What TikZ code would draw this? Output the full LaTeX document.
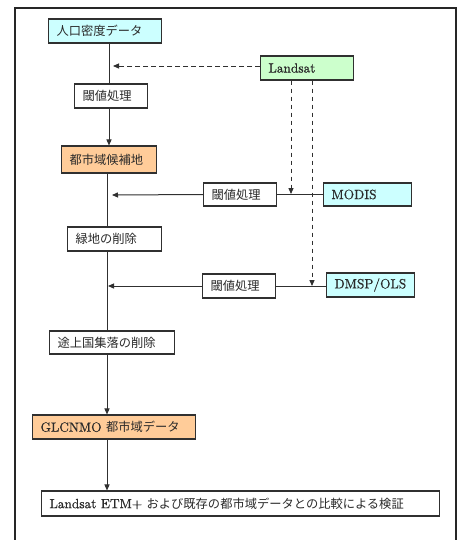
\documentclass[tikz,border=0pt]{standalone}
\usepackage{fontspec}
\setmainfont{Latin Modern Roman}[FakeBold=0.7]
\newfontfamily\jp{Noto Sans CJK JP}
\usetikzlibrary{arrows.meta}
\definecolor{bcyan}{HTML}{CCFFFF}
\definecolor{bgreen}{HTML}{CCFFCC}
\definecolor{borange}{HTML}{FFCC99}
\definecolor{edge}{HTML}{303030}
\definecolor{txt}{HTML}{2A2A2A}
\tikzset{
  box/.style={draw=edge, line width=0.8pt, anchor=west, inner xsep=6pt, inner ysep=0pt,
    minimum height=18pt, align=left, text=txt, font=\fontsize{10}{12}\selectfont},
  conn/.style={draw=edge, line width=0.75pt},
  arr/.style={conn, -{Triangle[length=4.5pt,width=3.8pt]}},
  darr/.style={arr, dash pattern=on 3.5pt off 2.5pt},
}
\newcommand\J[1]{{\jp\fontsize{9.2}{11}\selectfont #1}}
\begin{document}
\begin{tikzpicture}[x=0.75pt,y=-0.75pt]
\useasboundingbox (0,0) rectangle (458,540);
\clip (0,0) rectangle (458,540);
\fill[white] (0,0) rectangle (458,540);
\draw[line width=1.1pt, draw=black!85] (15,8) rectangle (456,580);

\node[box, fill=bcyan, text width=72.75pt] (pop) at (48,31) {\J{人口密度データ}};
\node[box, fill=bgreen, text width=57.75pt] (landsat) at (260,68) {Landsat};
\node[box, fill=white, text width=42.75pt] (th1) at (74,96) {\J{閾値処理}};
\node[box, fill=borange, text width=59.25pt, minimum height=20.25pt] (cand) at (61,159.5) {\J{都市域候補地}};
\node[box, fill=white, text width=42.75pt, minimum height=17.25pt] (th2) at (203,194.5) {\J{閾値処理}};
\node[box, fill=bcyan, text width=54pt, minimum height=17.25pt] (modis) at (323,194.5) {MODIS};
\node[box, fill=white, text width=58.5pt] (green) at (67,239) {\J{緑地の削除}};
\node[box, fill=white, text width=42.75pt] (th3) at (202,286) {\J{閾値処理}};
\node[box, fill=bcyan, text width=54pt] (dmsp) at (326,285) {DMSP/OLS};
\node[box, fill=white, text width=81.75pt, minimum height=17.25pt] (dev) at (49,342.5) {\J{途上国集落の削除}};
\node[box, fill=borange, text width=110.25pt] (glc) at (32,427) {GLCNMO\ \J{都市域データ}};
\node[box, fill=white, text width=286.5pt, minimum height=18.75pt] (final) at (41,503.5) {Landsat ETM+ \J{および既存の都市域データとの比較による検証}};

\coordinate (m1) at (109,0);
\coordinate (m2) at (107,0);
\coordinate (d1) at (291,0);
\coordinate (d2) at (312,0);
\coordinate (tipL) at (113,66);
\coordinate (tipM) at (112,195);
\coordinate (tipD) at (108,286);
\coordinate (tipd1) at (291,194);
\coordinate (tipd2) at (312,286);

\draw[conn] (pop.south -| m1) -- (th1.north -| m1);
\draw[arr] (th1.south -| m1) -- (cand.north -| m1);
\draw[conn] (cand.south -| m2) -- (green.north -| m2);
\draw[conn] (green.south -| m2) -- (dev.north -| m2);
\draw[arr] (dev.south -| m2) -- (glc.north -| m2);
\draw[arr] (glc.south -| m2) -- (final.north -| m2);

\draw[darr] (landsat.west |- tipL) -- (tipL);
\draw[darr] (landsat.south -| d1) -- (tipd1);
\draw[darr] (landsat.south -| d2) -- (tipd2);

\draw[conn] (modis.west) -- (th2.east);
\draw[arr] (th2.west) -- (tipM);
\draw[conn] (dmsp.west |- th3.east) -- (th3.east);
\draw[arr] (th3.west) -- (tipD);
\end{tikzpicture}
\end{document}
